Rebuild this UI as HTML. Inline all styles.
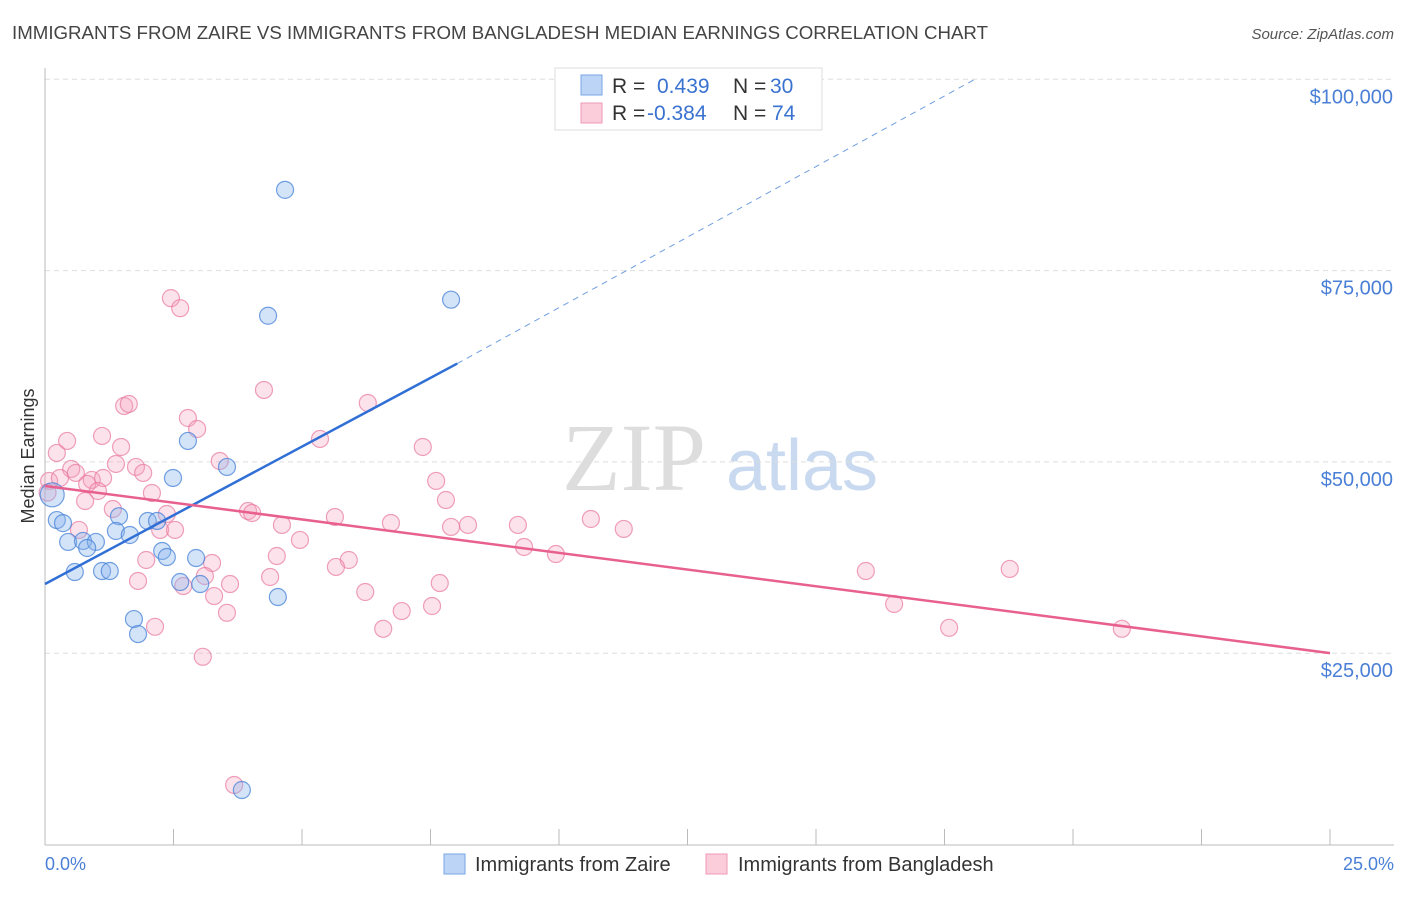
<!DOCTYPE html>
<html><head><meta charset="utf-8"><style>
body{margin:0;background:#fff;font-family:"Liberation Sans",sans-serif;}
</style></head><body>
<svg id="chart" width="1406" height="892" viewBox="0 0 1406 892" xmlns="http://www.w3.org/2000/svg">
<text x="12" y="39" font-size="18.6" fill="#444" textLength="976" lengthAdjust="spacingAndGlyphs">IMMIGRANTS FROM ZAIRE VS IMMIGRANTS FROM BANGLADESH MEDIAN EARNINGS CORRELATION CHART</text>
<text x="1394" y="39" font-size="15" fill="#555" font-style="italic" text-anchor="end">Source: ZipAtlas.com</text>
<g>
<text x="634" y="490" font-size="96" font-family="Liberation Serif,serif" fill="#ddd" text-anchor="middle">ZIP</text>
<text x="802" y="490" font-size="72" fill="#c9daf0" text-anchor="middle">atlas</text>
</g>
<g id="grid"></g>
<g id="axes"></g>
<g id="pts"></g>
<g id="lines"></g>
<text transform="translate(34,456) rotate(-90)" font-size="18" fill="#333" text-anchor="middle">Median Earnings</text>
<text x="45" y="870" font-size="18" fill="#4a7fd6">0.0%</text>
<text x="1394" y="870" font-size="18" fill="#4a7fd6" text-anchor="end">25.0%</text>
<g>
<rect x="555" y="68" width="267" height="62" fill="#fff" stroke="#ddd"/>
<rect x="581" y="75" width="21" height="20" fill="#bcd4f5" stroke="#7aa6e6"/>
<rect x="581" y="103" width="21" height="20" fill="#fbcddb" stroke="#ee99b4"/>
<text x="612" y="93" font-size="21" fill="#333">R =</text>
<text x="657" y="93" font-size="21" fill="#3a72d0">0.439</text>
<text x="733" y="93" font-size="21" fill="#333">N =</text>
<text x="770" y="93" font-size="21" fill="#3a72d0">30</text>
<text x="612" y="120" font-size="21" fill="#333">R =</text>
<text x="647" y="120" font-size="21" fill="#3a72d0">-0.384</text>
<text x="733" y="120" font-size="21" fill="#333">N =</text>
<text x="772" y="120" font-size="21" fill="#3a72d0">74</text>
</g>
<g>
<rect x="444" y="854" width="21" height="20" fill="#bcd4f5" stroke="#7aa6e6"/>
<text x="475" y="871" font-size="20" fill="#333">Immigrants from Zaire</text>
<rect x="706" y="854" width="21" height="20" fill="#fbcddb" stroke="#ee99b4"/>
<text x="738" y="871" font-size="20" fill="#333">Immigrants from Bangladesh</text>
</g>
</svg>
<script>
const yTicks=[25000,50000,75000,100000];
const yTickLabels=["$25,000","$50,000","$75,000","$100,000"];
const xTicks=[0,2.5,5,7.5,10,12.5,15,17.5,20,22.5,25];
const zaireX=[4.67,7.90,4.34,2.78,3.54,2.49,0.14,0.23,0.35,1.44,2.00,2.18,0.45,0.74,0.99,0.82,1.38,1.65,2.28,2.37,2.94,0.58,1.11,1.26,2.63,3.02,4.53,1.73,1.81,3.83];
const zaireY=[85550,71200,69100,52740,49340,47900,45700,42400,42000,42900,42280,42280,39540,39670,39540,38750,40970,40450,38360,37570,37440,35610,35740,35740,34300,34040,32340,29460,27500,7120];
const bangX=[2.45,2.63,4.26,1.54,1.63,6.28,2.78,2.96,1.11,0.43,5.35,1.48,7.35,0.23,3.40,1.38,1.77,0.51,1.91,0.60,7.61,0.08,0.29,0.91,1.13,0.82,1.03,2.08,0.78,7.80,1.32,3.95,4.03,2.37,5.64,10.62,4.61,6.73,8.23,7.90,9.20,11.26,0.66,2.24,2.53,4.96,9.32,4.51,9.94,1.97,3.25,5.91,5.66,15.97,18.77,3.11,4.38,1.81,7.68,2.69,3.60,6.23,3.29,6.94,7.53,16.52,3.54,2.14,6.58,17.59,20.95,3.07,3.68,0.05];
const bangY=[71400,70090,59400,57310,57570,57700,55740,54300,53390,52740,53000,51950,51950,51170,50120,49730,49340,49080,48560,48560,47510,47510,47900,47640,47900,47120,46200,45940,44890,45020,43840,43580,43320,43190,42800,42540,41760,42020,41760,41500,41760,41240,41110,41110,41110,39800,38880,37700,37960,37180,36790,37180,36270,35740,36010,35090,34960,34440,34170,33780,34040,33000,32470,30510,31170,31430,30280,28450,28190,28320,28190,24530,7780,46000];
const zaireTrend=[[0,34045],[8.02,62850],[18.09,100000]];
const bangTrend=[[0,46850],[25,25010]];
const X0=45,X1=1330,YB=844.5,YPER=191.3/25000;
const sx=v=>X0+(X1-X0)*v/25, sy=v=>YB-v*YPER;
const NS="http://www.w3.org/2000/svg";
function mk(tag,attrs,parent){const e=document.createElementNS(NS,tag);for(const k in attrs)e.setAttribute(k,attrs[k]);parent.appendChild(e);return e;}
const grid=document.getElementById('grid'),axes=document.getElementById('axes');
yTicks.forEach((t,i)=>{
 const l=mk('line',{x1:45,x2:1394,y1:sy(t),y2:sy(t),stroke:'#ddd','stroke-dasharray':'5,4'},grid);
 
 
 const tx=mk('text',{x:1393,y:sy(t)+24,'font-size':20,fill:'#4a7fd6','text-anchor':'end'},axes);
 tx.textContent=yTickLabels[i];
 
 
});
const ya=mk('line',{x1:45,x2:45,y1:68,y2:845,stroke:'#bbb'},axes);


const xa=mk('line',{x1:45,x2:1394,y1:845,y2:845,stroke:'#bbb'},axes);


xTicks.forEach(t=>{
 const l=mk('line',{x1:sx(t),x2:sx(t),y1:829,y2:845,stroke:'#bbb'},axes);
 
 
});
const pts=document.getElementById('pts');
bangX.forEach((x,i)=>{
 const c=mk('circle',{cx:sx(x),cy:sy(bangY[i]),r:8.5,fill:'rgba(246,160,188,0.3)',stroke:'rgba(232,120,158,0.7)','stroke-width':1.2},pts);
 
 
});
zaireX.forEach((x,i)=>{
 const c=mk('circle',{cx:sx(x),cy:sy(zaireY[i]),r:(i==6?12:8.5),fill:'rgba(140,182,236,0.38)',stroke:'rgba(70,130,215,0.75)','stroke-width':1.2},pts);
 
 
});
const lines=document.getElementById('lines');
const zs=mk('line',{x1:sx(zaireTrend[0][0]),y1:sy(zaireTrend[0][1]),x2:sx(zaireTrend[1][0]),y2:sy(zaireTrend[1][1]),stroke:'#2f6fd6','stroke-width':2.5},lines);


const zd=mk('line',{x1:sx(zaireTrend[1][0]),y1:sy(zaireTrend[1][1]),x2:sx(zaireTrend[2][0]),y2:sy(zaireTrend[2][1]),stroke:'#6f9ee0','stroke-width':1,'stroke-dasharray':'6,5'},lines);


const bl=mk('line',{x1:sx(bangTrend[0][0]),y1:sy(bangTrend[0][1]),x2:sx(bangTrend[1][0]),y2:sy(bangTrend[1][1]),stroke:'#e8608f','stroke-width':2.5},lines);


</script>
</body></html>
